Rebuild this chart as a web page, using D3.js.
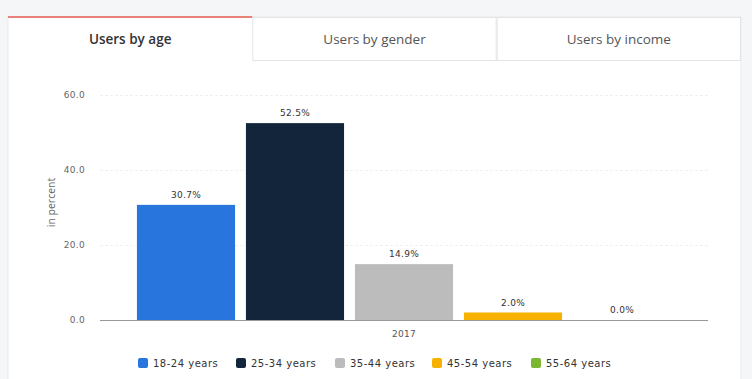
<!DOCTYPE html>
<html>
<head>
<meta charset="utf-8">
<script src="https://cdn.jsdelivr.net/npm/d3@7"></script>
<style>
  html, body { margin: 0; padding: 0; background: #f5f6f8; }
  svg { display: block; font-family: "Open Sans", "Noto Sans", sans-serif; }
</style>
</head>
<body>
<svg id="chart" width="752" height="379"></svg>
<script>
const tabs = ["Users by age", "Users by gender", "Users by income"];
const categories = ["2017"];
const seriesNames = ["18-24 years", "25-34 years", "35-44 years", "45-54 years", "55-64 years"];
const seriesValues = [30.7, 52.5, 14.9, 2.0, 0.0];
const seriesColors = ["#2876dd", "#13253b", "#bcbcbc", "#f7b100", "#7cb82f"];
const yTicks = [0, 20, 40, 60];

const svg = d3.select("#chart");

// Card
svg.append("rect").attr("x", 8).attr("y", 17).attr("width", 733).attr("height", 370)
  .attr("fill", "#ffffff").attr("stroke", "#e8e9eb");

// Tabs
const tabX = d3.scaleBand().domain(tabs).range([8, 741]);
tabs.forEach((t, i) => {
  const g = svg.append("g");
  if (i > 0) {
    g.append("rect").attr("x", tabX(t) + 0.5).attr("y", 17.5)
      .attr("width", tabX.bandwidth() - 1).attr("height", 43)
      .attr("fill", "#fff").attr("stroke", "#e3e4e6");
  } else {
    g.append("rect").attr("x", tabX(t)).attr("y", 16)
      .attr("width", tabX.bandwidth()).attr("height", 2).attr("fill", "#e8827a");
  }
  g.append("text").attr("x", tabX(t) + tabX.bandwidth() / 2).attr("y", 44)
    .attr("text-anchor", "middle").attr("font-size", 13.5)
    .attr("font-weight", i === 0 ? 600 : 400)
    .attr("fill", i === 0 ? "#333" : "#555").text(t);
});

// Plot
const pLeft = 100, pRight = 708, pTop = 95, pBottom = 320;
const y = d3.scaleLinear().domain([0, 60]).range([pBottom, pTop]);
const x0 = d3.scaleBand().domain(categories).range([pLeft, pRight]).paddingOuter(0.06);
const x1 = d3.scaleBand().domain(seriesNames).range([x0(categories[0]), x0(categories[0]) + x0.bandwidth()])
  .paddingInner(0.1).paddingOuter(0.04);

// Grid
svg.append("g").selectAll("line").data(yTicks.filter(d => d > 0)).join("line")
  .attr("x1", pLeft).attr("x2", pRight).attr("y1", d => y(d) + 0.5).attr("y2", d => y(d) + 0.5)
  .attr("stroke", "#f0f0f0").attr("stroke-dasharray", "3,2");

// Y axis
const yAxis = svg.append("g").attr("transform", `translate(${pLeft - 12},0)`)
  .call(d3.axisLeft(y).tickValues(yTicks).tickFormat(d3.format(".1f")).tickSize(0));
yAxis.select(".domain").remove();
yAxis.selectAll("text").attr("fill", "#666").attr("font-size", 9).attr("dx", 0)
  .attr("letter-spacing", 0.3)
  .attr("font-family", "DejaVu Sans, sans-serif");

svg.append("text").attr("transform", `translate(55,${(pTop + pBottom) / 2 - 5}) rotate(-90)`)
  .attr("text-anchor", "middle").attr("font-size", 10.5).attr("fill", "#666").text("in percent");

// Bars
svg.append("g").selectAll("rect").data(seriesValues).join("rect")
  .attr("x", (d, i) => x1(seriesNames[i]))
  .attr("width", x1.bandwidth())
  .attr("y", d => y(d))
  .attr("height", d => pBottom - y(d))
  .attr("fill", (d, i) => seriesColors[i]);

// Value labels
svg.append("g").selectAll("text").data(seriesValues).join("text")
  .attr("x", (d, i) => x1(seriesNames[i]) + x1.bandwidth() / 2)
  .attr("y", d => y(d) - 7)
  .attr("text-anchor", "middle").attr("font-size", 9).attr("fill", "#333")
  .attr("letter-spacing", 0.3)
  .attr("font-family", "DejaVu Sans, sans-serif")
  .text(d => d.toFixed(1) + "%");

// X axis
const xAxis = svg.append("g").attr("transform", `translate(0,${pBottom})`)
  .call(d3.axisBottom(x0).tickSize(0).tickSizeOuter(0));
xAxis.select(".domain").attr("stroke", "#999").attr("d", `M${pLeft},0.5H${pRight}`);
xAxis.selectAll("text").attr("fill", "#555").attr("font-size", 9).attr("dy", "1.5em")
  .attr("letter-spacing", 0.3)
  .attr("font-family", "DejaVu Sans, sans-serif");

// Legend
const legendX = [138, 236, 335, 432, 531];
const lg = svg.append("g").selectAll("g").data(seriesNames).join("g")
  .attr("transform", (d, i) => `translate(${legendX[i]},358)`);
lg.append("rect").attr("width", 10).attr("height", 10).attr("rx", 2)
  .attr("fill", (d, i) => seriesColors[i]);
lg.append("text").attr("x", 15).attr("y", 9).attr("font-size", 10).attr("fill", "#333")
  .attr("letter-spacing", 0.5)
  .attr("font-family", "DejaVu Sans, sans-serif").text(d => d);
</script>
</body>
</html>
